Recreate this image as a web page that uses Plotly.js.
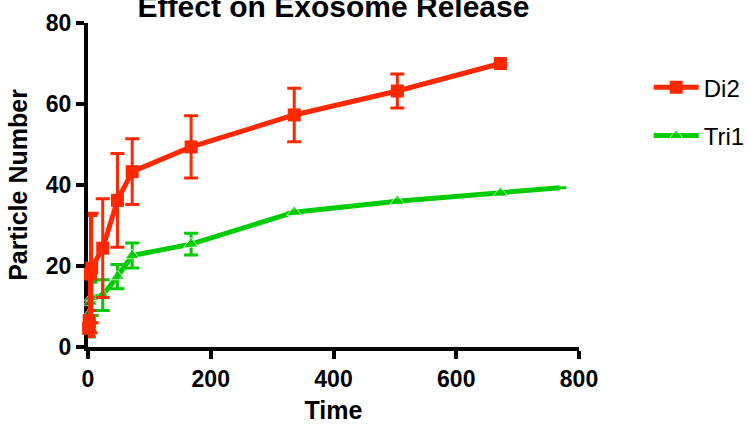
<!DOCTYPE html>
<html>
<head>
<meta charset="utf-8">
<script src="https://cdn.plot.ly/plotly-3.0.1.min.js"></script>
<style>html,body{margin:0;padding:0;background:#fff;}#chart{width:747px;height:424px;}</style>
</head>
<body>
<div id="chart"></div>
<script>
// Time (hours)
var di2Time = [1, 2, 4, 6, 24, 48, 72, 168, 336, 504, 672];
var di2Value = [4.6, 6.5, 18.0, 19.5, 24.4, 36.2, 43.3, 49.4, 57.3, 63.2, 70.0];
var di2Err = [2.0, 2.5, 14.5, 13.5, 12.2, 11.6, 8.1, 7.7, 6.6, 4.2, 0];

var tri1Time = [1, 2, 4, 6, 24, 48, 72, 168, 336, 504, 672, 768];
var tri1Value = [5.0, 8.0, 11.0, 12.2, 12.8, 17.4, 22.6, 25.4, 33.3, 36.0, 38.0, 39.3];
var tri1Err = [2.5, 3.0, 5.0, 4.4, 3.8, 3.0, 3.1, 2.7, 0, 0, 0, 0];
var tri1MarkerShown = [1, 1, 1, 1, 1, 1, 1, 1, 1, 1, 1, 0];

var xTicks = [0, 200, 400, 600, 800];
var yTicks = [0, 20, 40, 60, 80];

var red = 'rgb(255,40,0)';
var green = 'rgb(0,204,0)';
var fontFam = 'Liberation Sans, Arial, sans-serif';

var traces = [
  {
    name: 'Tri1', x: tri1Time, y: tri1Value, type: 'scatter', mode: 'lines+markers',
    legendgroup: 'g2', legendrank: 2, cliponaxis: false,
    line: {color: green, width: 5},
    marker: {symbol: 'triangle-up', color: green, size: tri1MarkerShown.map(function(s){return s ? 13 : 0;})},
    error_y: {type: 'data', array: tri1Err, visible: true, color: green, thickness: 3, width: 7}
  },
  {
    name: 'Di2', x: di2Time, y: di2Value, type: 'scatter', mode: 'lines+markers',
    legendgroup: 'g1', legendrank: 1, cliponaxis: false,
    line: {color: red, width: 5},
    marker: {symbol: 'square', color: red, size: 13},
    error_y: {type: 'data', array: di2Err, visible: true, color: red, thickness: 3, width: 7}
  }
];

var axisCommon = {
  showgrid: false, zeroline: false, showline: true, linecolor: '#000', linewidth: 4,
  ticks: 'outside', ticklen: 8, tickwidth: 4, tickcolor: '#000', layer: 'below traces',
  tickfont: {family: fontFam, size: 23, color: '#000', weight: 'bold'}
};

var layout = {
  width: 747, height: 424,
  margin: {l: 88, r: 168, t: 23, b: 77, autoexpand: false},
  paper_bgcolor: '#fff', plot_bgcolor: '#fff',
  title: {text: 'Effect on Exosome Release', x: 0.5, xref: 'paper', y: 0.985, yref: 'container', yanchor: 'middle',
    font: {family: fontFam, size: 30, color: '#000', weight: 'bold'}},
  xaxis: Object.assign({}, axisCommon, {range: [0, 800], tickvals: xTicks, ticktext: xTicks.map(String),
    title: {text: 'Time', standoff: 16, font: {family: fontFam, size: 25, color: '#000', weight: 'bold'}}}),
  yaxis: Object.assign({}, axisCommon, {range: [0, 80], tickvals: yTicks, ticktext: yTicks.map(String),
    title: {text: 'Particle Number', standoff: 12, font: {family: fontFam, size: 25, color: '#000', weight: 'bold'}}}),
  showlegend: true,
  legend: {x: 1.142, xanchor: 'left', y: 0.87, yanchor: 'top', traceorder: 'grouped', itemwidth: 45,
    font: {family: fontFam, size: 24, color: '#000'}, bgcolor: 'rgba(0,0,0,0)', tracegroupgap: 14}
};

Plotly.newPlot('chart', traces, layout, {displayModeBar: false, staticPlot: true});
</script>
</body>
</html>
